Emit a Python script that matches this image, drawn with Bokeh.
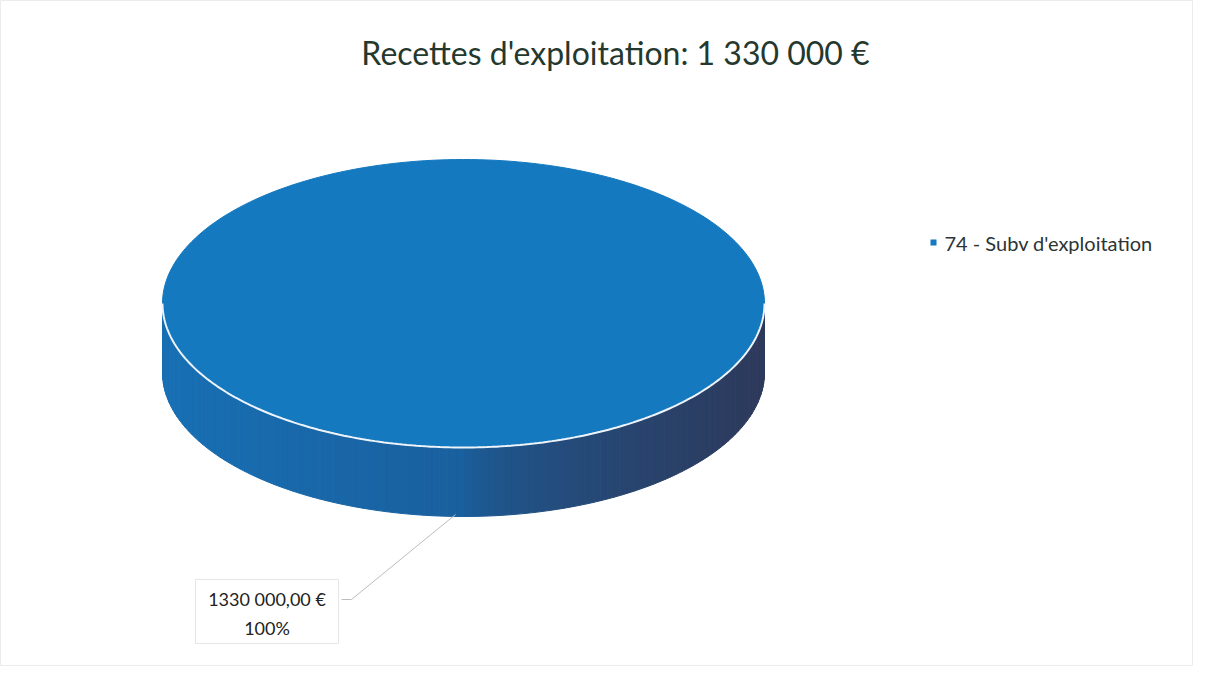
import math
from bokeh.plotting import figure
from bokeh.models import Range1d
from bokeh.core.properties import value
from bokeh.embed import file_html
from bokeh.resources import INLINE

# ---- data ----
categories = ["74 - Subv d'exploitation"]
values = [1330000]
value_labels = ["1330 000,00 €"]
title_text = "Recettes d'exploitation: 1 330 000 €"

# ---- style / layout ----
W, H = 1193, 666
CX, CY, RX, RY, DEPTH = 463, 303, 301, 144, 69
TOP_COLOR = "#1579BF"
SIDE_LEFT = (24, 112, 180)
SIDE_MID = (26, 96, 158)
SIDE_RIGHT = (46, 58, 92)
FONT = "Lato"

p = figure(width=W, height=H, output_backend="svg", toolbar_location=None,
           x_range=Range1d(0, W), y_range=Range1d(H, 0),
           min_border=0, background_fill_color="white")
p.axis.visible = False
p.grid.visible = False
p.outline_line_color = "#ececec"


def ell(theta, dy=0.0):
    # theta: angle clockwise from 12 o'clock (screen y points down)
    return CX + RX * math.sin(theta), CY - RY * math.cos(theta) + dy


def side_color(x):
    t = (x - (CX - RX)) / (2 * RX)
    t = min(max(t, 0.0), 1.0)
    if t < 0.5:
        a, b, u = SIDE_LEFT, SIDE_MID, t / 0.5
    else:
        a, b, u = SIDE_MID, SIDE_RIGHT, (t - 0.5) / 0.5
        u = u ** 0.6
    c = [int(a[i] + (b[i] - a[i]) * u) for i in range(3)]
    return "#%02x%02x%02x" % tuple(c)


total = float(sum(values))
start = 0.0
slices = []
for cat, v in zip(categories, values):
    frac = v / total
    end = start + frac * 2 * math.pi
    slices.append((cat, v, start, end))
    start = end

# side (front visible part: angles between pi/2 and 3pi/2)
N = 120
sx, sy, sc = [], [], []
for cat, v, a0, a1 in slices:
    lo = max(a0, math.pi / 2)
    hi = min(a1, 3 * math.pi / 2)
    if hi <= lo:
        continue
    for i in range(N):
        t0 = lo + (hi - lo) * i / N
        t1 = lo + (hi - lo) * (i + 1) / N
        x0, y0 = ell(t0)
        x1, y1 = ell(t1)
        sx.append([x0, x1, x1, x0])
        sy.append([y0, y1, y1 + DEPTH, y0 + DEPTH])
        sc.append(side_color((x0 + x1) / 2))
p.patches(sx, sy, fill_color=sc, line_color=sc, line_width=1)

# top faces
tx, ty = [], []
for cat, v, a0, a1 in slices:
    M = 240
    pts = [ell(a0 + (a1 - a0) * i / M) for i in range(M + 1)]
    xs = [q[0] for q in pts]
    ys = [q[1] for q in pts]
    if a1 - a0 < 2 * math.pi - 1e-9:
        xs = [CX] + xs
        ys = [CY] + ys
    tx.append(xs)
    ty.append(ys)
p.patches(tx, ty, fill_color=TOP_COLOR, line_color=TOP_COLOR, line_width=1)

# white highlight on the front rim
rim = [ell(math.pi / 2 + math.pi * i / 200) for i in range(201)]
p.line([q[0] for q in rim], [q[1] for q in rim], line_color="#eef4fa", line_width=2)

# title
p.text(x=[615], y=[52], text=[title_text], text_font=value(FONT),
       text_font_size="32px", text_color="#24382e",
       text_align="center", text_baseline="middle")

# legend
p.rect(x=[933], y=[242], width=6, height=6, fill_color=TOP_COLOR, line_color=None)
p.text(x=[944], y=[242], text=categories, text_font=value(FONT),
       text_font_size="20px", text_color="#2b3535",
       text_align="left", text_baseline="middle")

# data label with leader line
for (cat, v, a0, a1), lab in zip(slices, value_labels):
    mid = (a0 + a1) / 2
    ax, ay = ell(mid, DEPTH)
    ax -= 8
    ay -= 2
    bx0, bx1, by0, by1 = 195, 338, 579, 643
    p.quad(left=[bx0], right=[bx1], top=[by0], bottom=[by1],
           fill_color="white", line_color="#e6e6e6", line_width=1)
    p.line([bx1 + 3, bx1 + 13, ax], [599, 599, ay], line_color="#bdbdbd", line_width=1)
    p.text(x=[(bx0 + bx1) / 2], y=[598], text=[lab], text_font=value(FONT),
           text_font_size="18px", text_color="#222222",
           text_align="center", text_baseline="middle")
    pct = "%d%%" % round(100 * v / total)
    p.text(x=[(bx0 + bx1) / 2], y=[627], text=[pct], text_font=value(FONT),
           text_font_size="18px", text_color="#222222",
           text_align="center", text_baseline="middle")

open("out.html", "w").write(file_html(p, INLINE))
